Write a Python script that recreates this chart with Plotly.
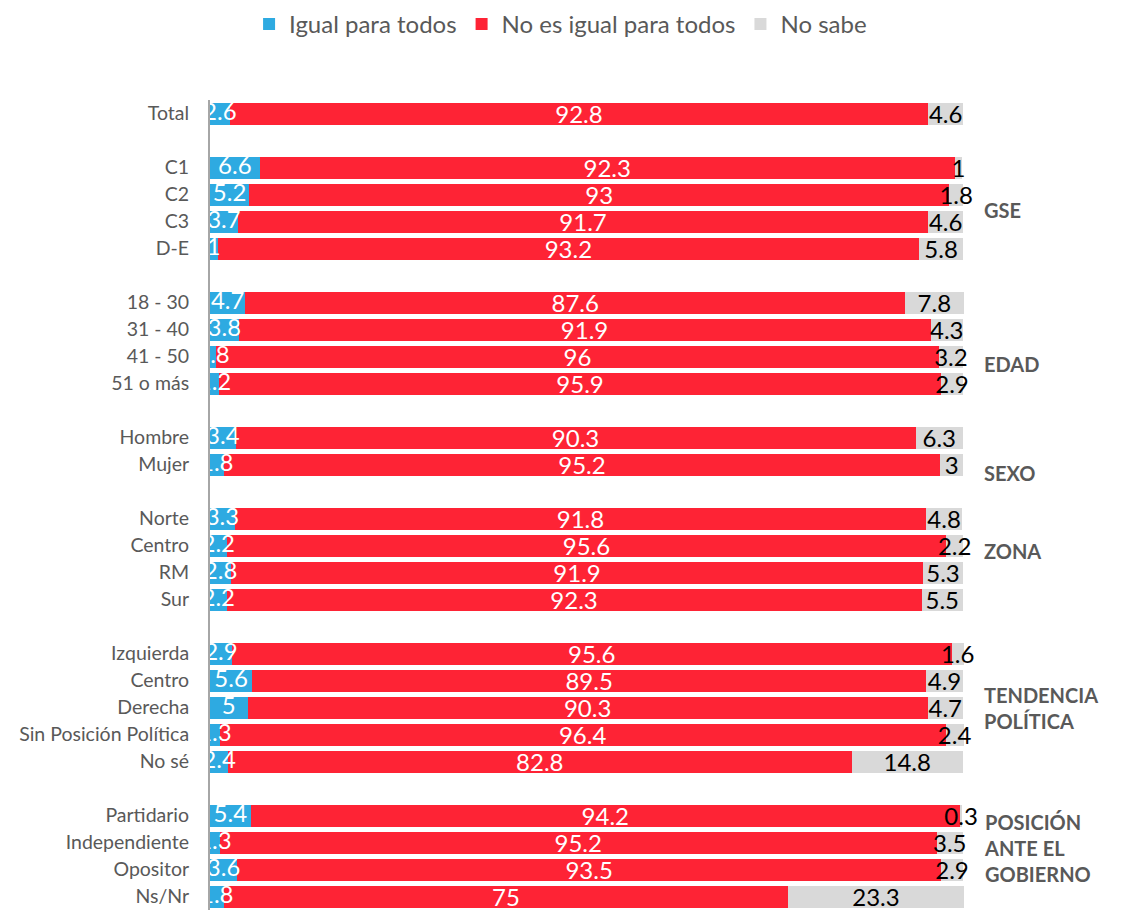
import plotly.graph_objects as go

categories = ["Total",
              "C1", "C2", "C3", "D-E",
              "18 - 30", "31 - 40", "41 - 50", "51 o más",
              "Hombre", "Mujer",
              "Norte", "Centro", "RM", "Sur",
              "Izquierda", "Centro", "Derecha", "Sin Posición Política", "No sé",
              "Partidario", "Independiente", "Opositor", "Ns/Nr"]
group_sizes = [1, 4, 4, 2, 4, 5, 4]

igual = [2.6, 6.6, 5.2, 3.7, 1, 4.7, 3.8, 0.8, 1.2, 3.4, 1.8, 3.3, 2.2, 2.8, 2.2,
         2.9, 5.6, 5, 1.3, 2.4, 5.4, 1.3, 3.6, 1.8]
no_igual = [92.8, 92.3, 93, 91.7, 93.2, 87.6, 91.9, 96, 95.9, 90.3, 95.2, 91.8, 95.6, 91.9, 92.3,
            95.6, 89.5, 90.3, 96.4, 82.8, 94.2, 95.2, 93.5, 75]
no_sabe = [4.6, 1, 1.8, 4.6, 5.8, 7.8, 4.3, 3.2, 2.9, 6.3, 3, 4.8, 2.2, 5.3, 5.5,
           1.6, 4.9, 4.7, 2.4, 14.8, 0.3, 3.5, 2.9, 23.3]

series_names = ["Igual para todos", "No es igual para todos", "No sabe"]
group_labels = ["GSE", "EDAD", "SEXO", "ZONA", "TENDENCIA<br>POLÍTICA", "POSICIÓN<br>ANTE EL<br>GOBIERNO"]

# slot positions with an empty slot between groups
ypos = []
slot = 0
for n in group_sizes:
    for k in range(n):
        ypos.append(slot)
        slot += 1
    slot += 1
last_slot = ypos[-1]

colors = ["#2EAAE1", "#FE2335", "#D9D9D9"]
text_colors = ["white", "white", "black"]
font_family = "Lato, 'Open Sans', sans-serif"

fig = go.Figure()
for i, (name, vals, col, tcol) in enumerate(zip(series_names, [igual, no_igual, no_sabe], colors, text_colors)):
    fig.add_trace(go.Bar(
        y=ypos, x=vals, name=name, orientation="h",
        marker=dict(color=col, line=dict(width=0)),
        text=None if i == 0 else ["{:g}".format(v) for v in vals],
        textposition="inside", insidetextanchor="middle", textangle=0,
        constraintext="none",
        textfont=dict(color=tcol, size=24, family=font_family),
        cliponaxis=True,
    ))

# labels of the first segment drawn on top of all bars (as in the original)
fig.add_trace(go.Scatter(
    y=ypos, x=[v / 2 for v in igual], mode="text",
    text=["{:g}".format(v) for v in igual], textposition="middle center",
    textfont=dict(color="white", size=24, family=font_family),
    showlegend=False, hoverinfo="skip", cliponaxis=True,
))

label_y = [3.56, 9.26, 13.3, 16.2, 22.0, 27.2]
for lab, yv in zip(group_labels, label_y):
    fig.add_annotation(x=100, xref="x", xshift=19, y=yv, yref="y",
                       text="<b>" + lab + "</b>", showarrow=False,
                       xanchor="left", yanchor="middle", align="left",
                       font=dict(size=20, color="#595959", family=font_family))

fig.update_layout(
    width=1130, height=910,
    barmode="stack", bargap=0.185,
    plot_bgcolor="white", paper_bgcolor="white",
    margin=dict(l=202, r=160, t=92, b=8),
    uniformtext=dict(minsize=24, mode="show"),
    legend=dict(orientation="h", xref="container", yref="container",
                x=0.489, xanchor="center", y=0.982, yanchor="middle",
                bgcolor="rgba(0,0,0,0)",
                font=dict(size=24, color="#595959", family=font_family),
                traceorder="normal"),
    font=dict(family=font_family, color="#595959"),
)
fig.update_xaxes(range=[0, 102], visible=False, showgrid=False, zeroline=False)
fig.update_yaxes(range=[last_slot + 0.5, -0.5], tickvals=ypos, ticktext=categories,
                 showgrid=False, zeroline=False, showline=True, linecolor="#A6A6A6",
                 linewidth=2, ticks="", ticklabelstandoff=15,
                 tickfont=dict(size=19.5, color="#595959", family=font_family))

fig.write_html("out.html")
